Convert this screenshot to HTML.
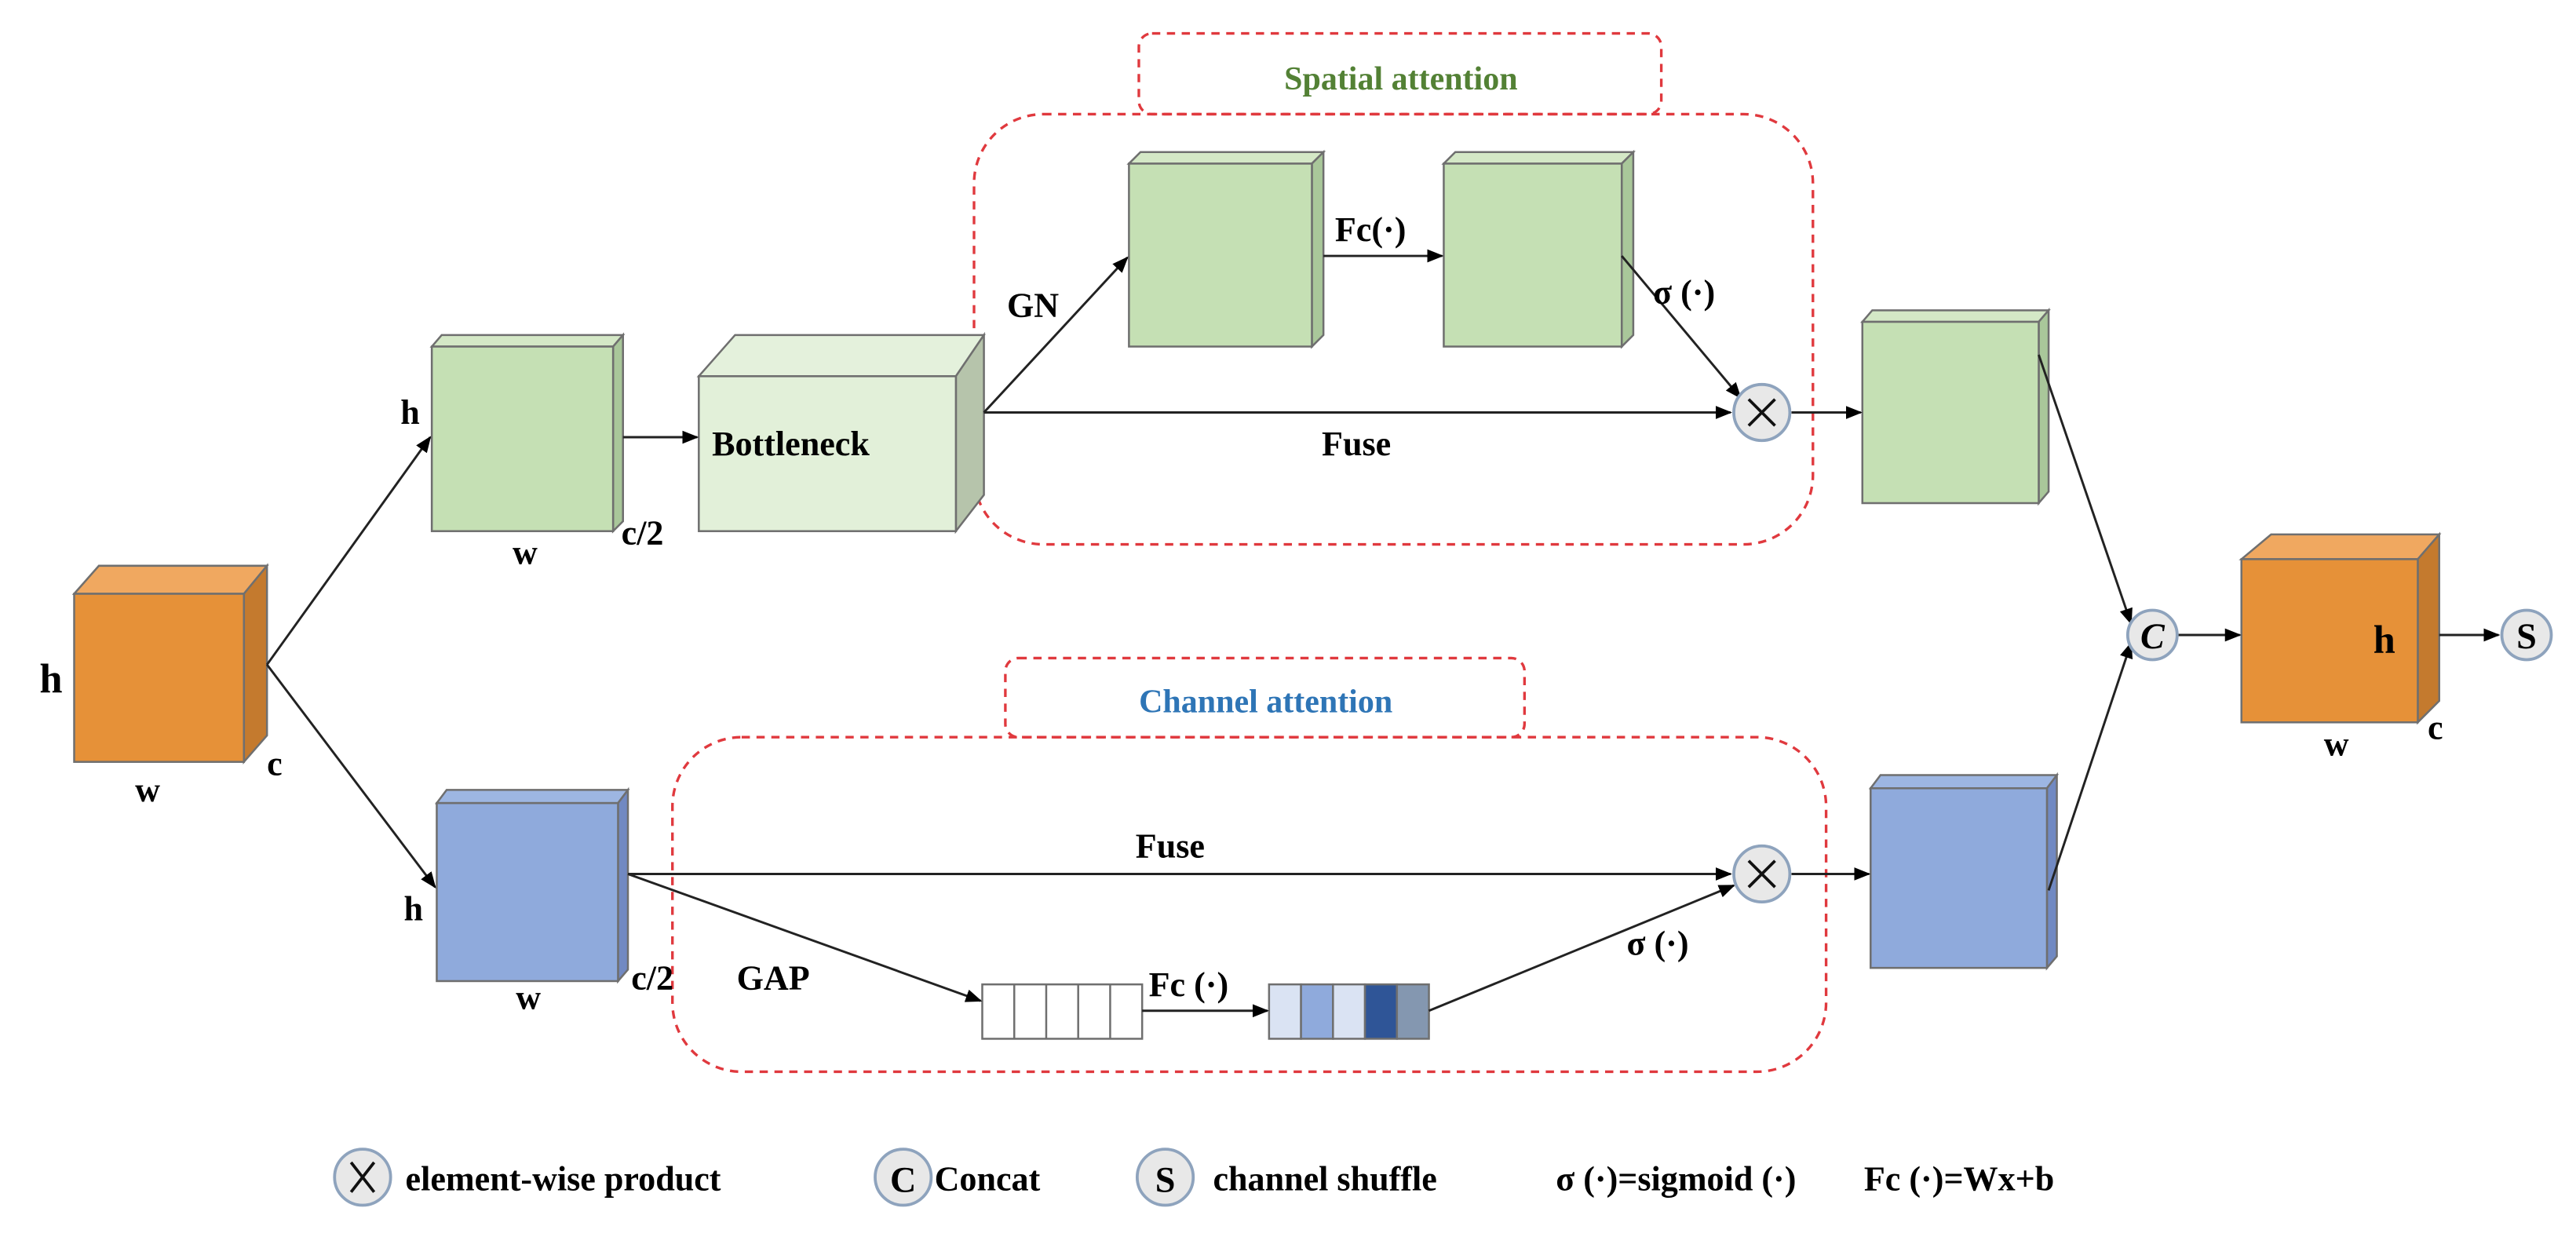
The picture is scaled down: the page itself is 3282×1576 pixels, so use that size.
<!DOCTYPE html>
<html><head><meta charset="utf-8"><style>html,body{margin:0;padding:0;background:#fff}svg{display:block}</style></head>
<body>
<svg width="3282" height="1576" viewBox="0 0 1563 750" xmlns="http://www.w3.org/2000/svg" font-family="'Liberation Serif',serif" font-weight="bold">
<defs>
<marker id="a" markerWidth="10" markerHeight="8" refX="9" refY="4" orient="auto" markerUnits="userSpaceOnUse"><path d="M0,0 L10,4 L0,8 z" fill="#000"/></marker>
</defs>
<rect width="1563" height="750" fill="#fff"/>
<g stroke="#e0393e" stroke-width="1.6" stroke-dasharray="5,4" fill="none">
<rect x="691" y="20" width="317" height="49" rx="8"/>
<rect x="591" y="69" width="509" height="261" rx="42"/>
<rect x="610" y="399" width="315" height="48" rx="8"/>
<rect x="408" y="447" width="700" height="203" rx="42"/>
</g>
<text x="850" y="54" font-size="20" fill="#538135" text-anchor="middle">Spatial attention</text>
<text x="768" y="432" font-size="20" fill="#2e75b6" text-anchor="middle">Channel attention</text>
<g stroke="#6f6f6f" stroke-width="1.2">
<polygon points="45,360 60,343 162,343 148,360" fill="#f0a860"/>
<polygon points="148,360 162,343 162,446 148,462" fill="#c47a2e"/>
<rect x="45" y="360" width="103" height="102" fill="#e69138"/>
<polygon points="262,210 268,203 378,203 372,210" fill="#d4e8c6"/>
<polygon points="372,210 378,203 378,316 372,322" fill="#a9c79a"/>
<rect x="262" y="210" width="110" height="112" fill="#c5e0b4"/>
<polygon points="424,228 446,203 597,203 580,228" fill="#e4f1dc"/>
<polygon points="580,228 597,203 597,300 580,322" fill="#b6c4ab"/>
<rect x="424" y="228" width="156" height="94" fill="#e2f0d9"/>
<polygon points="685,99 692,92 803,92 796,99" fill="#d4e8c6"/>
<polygon points="796,99 803,92 803,203 796,210" fill="#a9c79a"/>
<rect x="685" y="99" width="111" height="111" fill="#c5e0b4"/>
<polygon points="876,99 883,92 991,92 984,99" fill="#d4e8c6"/>
<polygon points="984,99 991,92 991,203 984,210" fill="#a9c79a"/>
<rect x="876" y="99" width="108" height="111" fill="#c5e0b4"/>
<polygon points="1130,195 1136,188 1243,188 1237,195" fill="#d4e8c6"/>
<polygon points="1237,195 1243,188 1243,298 1237,305" fill="#a9c79a"/>
<rect x="1130" y="195" width="107" height="110" fill="#c5e0b4"/>
<polygon points="265,487 271,479 381,479 375,487" fill="#9db6e2"/>
<polygon points="375,487 381,479 381,588 375,595" fill="#7189c2"/>
<rect x="265" y="487" width="110" height="108" fill="#8faadc"/>
<polygon points="1135,478 1141,470 1248,470 1242,478" fill="#9db6e2"/>
<polygon points="1242,478 1248,470 1248,580 1242,587" fill="#7189c2"/>
<rect x="1135" y="478" width="107" height="109" fill="#8faadc"/>
<polygon points="1360,339 1378,324 1480,324 1467,339" fill="#f0a860"/>
<polygon points="1467,339 1480,324 1480,425 1467,438" fill="#c47a2e"/>
<rect x="1360" y="339" width="107" height="99" fill="#e69138"/>
<rect x="596" y="597" width="97" height="33" fill="#fff"/>
<line x1="615.4" y1="597" x2="615.4" y2="630"/><line x1="634.8" y1="597" x2="634.8" y2="630"/><line x1="654.2" y1="597" x2="654.2" y2="630"/><line x1="673.6" y1="597" x2="673.6" y2="630"/>
<rect x="770" y="597" width="19.4" height="33" fill="#dae3f3"/>
<rect x="789.4" y="597" width="19.4" height="33" fill="#8faadc"/>
<rect x="808.8" y="597" width="19.4" height="33" fill="#dae3f3"/>
<rect x="828.2" y="597" width="19.4" height="33" fill="#2f5597"/>
<rect x="847.6" y="597" width="19.4" height="33" fill="#8497b0"/>
</g>
<g stroke="#222" stroke-width="1.4" fill="none" marker-end="url(#a)">
<line x1="162" y1="403" x2="261" y2="265"/>
<line x1="162" y1="403" x2="264" y2="538"/>
<line x1="378" y1="265" x2="423" y2="265"/>
<line x1="597" y1="250" x2="684" y2="156"/>
<line x1="597" y1="250" x2="1050" y2="250"/>
<line x1="803" y1="155" x2="875" y2="155"/>
<line x1="984" y1="155" x2="1056" y2="241"/>
<line x1="1087" y1="250" x2="1129" y2="250"/>
<line x1="1237" y1="215" x2="1293" y2="378"/>
<line x1="1243" y1="540" x2="1293" y2="390"/>
<line x1="1321" y1="385" x2="1359" y2="385"/>
<line x1="1480" y1="385" x2="1516" y2="385"/>
<line x1="381" y1="530" x2="1050" y2="530"/>
<line x1="381" y1="530" x2="595" y2="607"/>
<line x1="693" y1="613" x2="769" y2="613"/>
<line x1="867" y1="613" x2="1052" y2="537"/>
<line x1="1087" y1="530" x2="1134" y2="530"/>
</g>
<g fill="#e8e8e8" stroke="#8ea3bd" stroke-width="1.8">
<circle cx="1069" cy="250" r="17"/><circle cx="1069" cy="530" r="17"/>
<circle cx="1306" cy="385" r="15"/><circle cx="1533" cy="385" r="15"/>
<circle cx="220" cy="714" r="17"/><circle cx="548" cy="714" r="17"/><circle cx="707" cy="714" r="17"/>
</g>
<g stroke="#111" stroke-width="1.8">
<path d="M1061,242 L1077,258 M1077,242 L1061,258"/>
<path d="M1061,522 L1077,538 M1077,522 L1061,538"/>
<path d="M213,705 L227,723 M227,705 L213,723"/>
</g>
<g font-size="22" fill="#000" text-anchor="middle">
<text x="1306" y="393" font-style="italic">C</text>
<text x="1533" y="393">S</text>
<text x="548" y="723">C</text>
<text x="707" y="723">S</text>
</g>
<g font-size="21" fill="#000">
<text x="24" y="420" font-size="25">h</text>
<text x="82" y="486">w</text>
<text x="162" y="470">c</text>
<text x="243" y="257">h</text>
<text x="311" y="342">w</text>
<text x="377" y="330">c/2</text>
<text x="432" y="276">Bottleneck</text>
<text x="611" y="192">GN</text>
<text x="810" y="146">Fc(·)</text>
<text x="1003" y="184">σ (·)</text>
<text x="802" y="276">Fuse</text>
<text x="689" y="520">Fuse</text>
<text x="245" y="558">h</text>
<text x="313" y="612">w</text>
<text x="383" y="600">c/2</text>
<text x="447" y="600">GAP</text>
<text x="697" y="604">Fc (·)</text>
<text x="987" y="579">σ (·)</text>
<text x="1440" y="396" font-size="24">h</text>
<text x="1410" y="458">w</text>
<text x="1473" y="448">c</text>
</g>
<g font-size="21" fill="#000">
<text x="246" y="722">element-wise product</text>
<text x="567" y="722">Concat</text>
<text x="736" y="722">channel shuffle</text>
<text x="944" y="722">σ (·)=sigmoid (·)</text>
<text x="1131" y="722">Fc (·)=Wx+b</text>
</g>
</svg>
</body></html>
